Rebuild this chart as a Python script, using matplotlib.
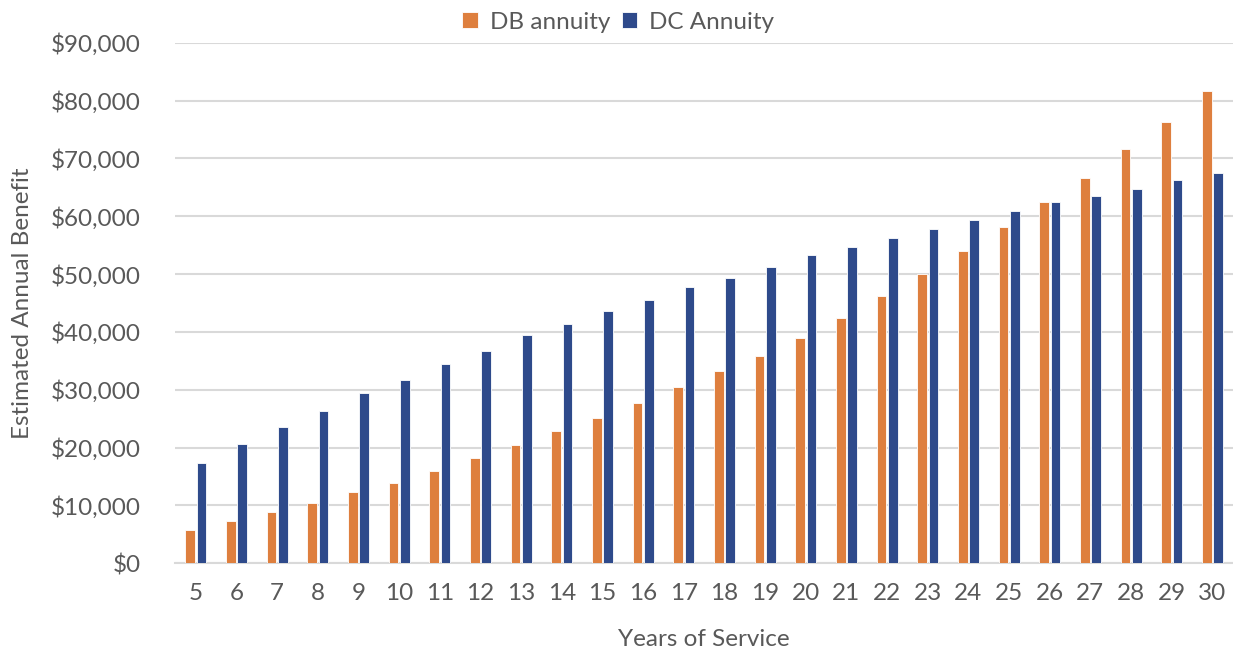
import numpy as np
import matplotlib
matplotlib.use("Agg")
import matplotlib.pyplot as plt
import matplotlib.ticker as mticker

# ─── Data ─────────────────────────────────────────────────────────────────────
years = list(range(5, 31))
db_annuity = [5800, 7400, 8900, 10500, 12400, 13950, 15900, 18200, 20500, 22800,
              25100, 27800, 30550, 33200, 35900, 39000, 42450, 46250, 50100, 54000,
              58200, 62400, 66650, 71650, 76250, 81600]
dc_annuity = [17400, 20550, 23600, 26300, 29400, 31750, 34400, 36650, 39400, 41300,
              43600, 45550, 47850, 49400, 51300, 53250, 54700, 56250, 57800, 59350,
              60900, 62400, 63550, 64750, 66300, 67450]
series_labels = ["DB annuity", "DC Annuity"]

ORANGE = "#DE7F3E"
BLUE = "#2E4A8B"
GRID = "#D9D9D9"
TEXT = "#595959"
FS = 17.5

plt.rcParams["font.family"] = ["Lato", "DejaVu Sans"]

fig = plt.figure(figsize=(12.33, 6.51), dpi=100)
ax = fig.add_axes([0.1423, 0.1347, 0.8575, 0.7997])

x = np.array(years, dtype=float)
w = 0.235
ax.bar(x - 0.14, db_annuity, width=w, color=ORANGE, edgecolor="white",
       linewidth=0.6, label=series_labels[0], zorder=3)
ax.bar(x + 0.14, dc_annuity, width=w, color=BLUE, edgecolor="white",
       linewidth=0.6, label=series_labels[1], zorder=3)

ax.set_xlim(4.5, 30.5)
ax.set_ylim(0, 90000)
ax.set_xticks(years)
ax.set_yticks(range(0, 90001, 10000))
ax.yaxis.set_major_formatter(mticker.FuncFormatter(lambda v, _: f"${v:,.0f}"))

ax.grid(axis="y", color=GRID, linewidth=1.5, zorder=0)
ax.set_axisbelow(True)
for s in ["top", "right", "left"]:
    ax.spines[s].set_visible(False)
ax.spines["bottom"].set_color(GRID)
ax.spines["bottom"].set_linewidth(1.5)

ax.tick_params(axis="both", length=0, labelsize=FS, labelcolor=TEXT)
ax.tick_params(axis="y", pad=25)
ax.tick_params(axis="x", pad=14)

ax.set_xlabel("Years of Service", fontsize=FS, color=TEXT, labelpad=18)
fig.text(0.018, 0.5347, "Estimated Annual Benefit", rotation=90, fontsize=FS,
         color=TEXT, ha="center", va="center")

fig.legend(loc="center", bbox_to_anchor=(0.5015, 0.966), ncol=2, frameon=False,
           fontsize=FS, labelcolor=TEXT, handlelength=0.65, handleheight=0.65,
           columnspacing=0.45, handletextpad=0.5)

fig.savefig("out.png", dpi=100)
